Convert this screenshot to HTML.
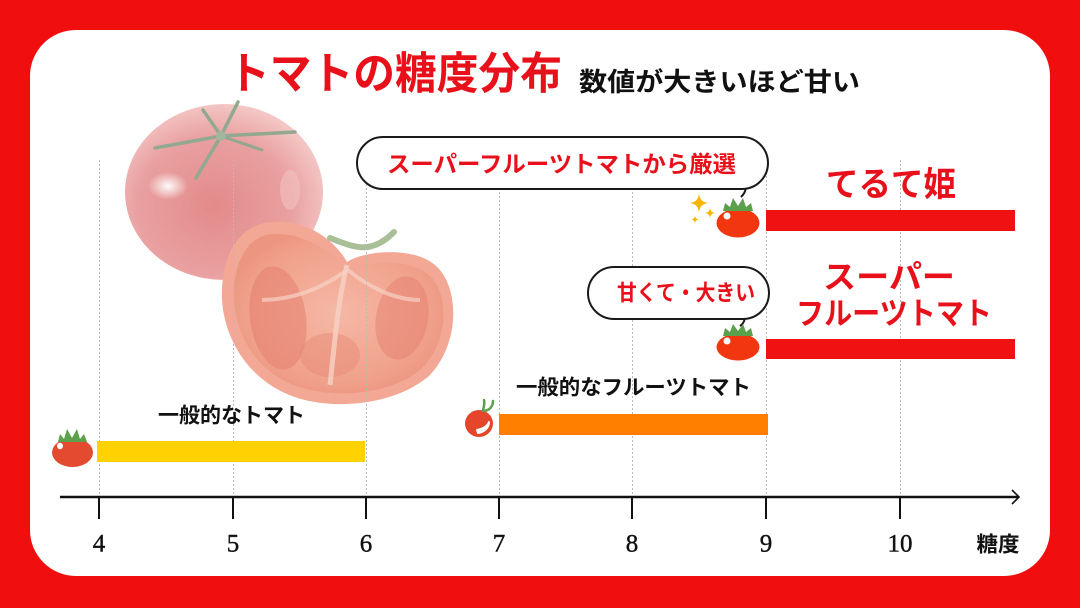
<!DOCTYPE html>
<html lang="ja">
<head>
<meta charset="utf-8">
<style>
  html,body{margin:0;padding:0;background:#f00e0e;}
  body{width:1080px;height:608px;overflow:hidden;}
  svg{display:block;}
  .jp{font-family:"Liberation Sans","Noto Sans CJK JP",sans-serif;font-weight:700;}
  .num{font-family:"Liberation Serif","Noto Serif CJK SC",serif;}
</style>
</head>
<body>
<svg width="1080" height="608" viewBox="0 0 1080 608" xmlns="http://www.w3.org/2000/svg">
  <defs>
    <radialGradient id="gWhole" cx="45%" cy="58%" r="60%">
      <stop offset="0" stop-color="#e38a8a"/>
      <stop offset="0.65" stop-color="#e9a0a0"/>
      <stop offset="1" stop-color="#f4cac8"/>
    </radialGradient>
    <radialGradient id="gHl" cx="50%" cy="50%" r="50%">
      <stop offset="0" stop-color="#ffffff" stop-opacity="0.95"/>
      <stop offset="1" stop-color="#ffffff" stop-opacity="0"/>
    </radialGradient>
    <radialGradient id="gHalf" cx="50%" cy="50%" r="55%">
      <stop offset="0" stop-color="#f5b8a6"/>
      <stop offset="0.8" stop-color="#f0a08a"/>
      <stop offset="1" stop-color="#ec9580"/>
    </radialGradient>
  </defs>

  <!-- red background + white panel -->
  <rect x="0" y="0" width="1080" height="608" fill="#f00e0e"/>
  <rect x="30" y="30" width="1020" height="546" rx="46" ry="46" fill="#ffffff"/>

  <!-- faded tomato photos -->
  <g>
    <!-- whole tomato -->
    <ellipse cx="224" cy="192" rx="99" ry="88" fill="url(#gWhole)"/>
    <ellipse cx="168" cy="186" rx="20" ry="14" fill="url(#gHl)"/>
    <ellipse cx="290" cy="190" rx="10" ry="20" fill="#f3c8c6" opacity="0.5"/>
    <g stroke="#93a890" stroke-linecap="round" fill="none">
      <path d="M221,136 L203,110" stroke-width="3.5"/>
      <path d="M221,136 L238,102" stroke-width="3.5"/>
      <path d="M221,136 L155,148" stroke-width="3.5"/>
      <path d="M221,136 L295,132" stroke-width="3.5"/>
      <path d="M221,136 L196,178" stroke-width="3.5"/>
      <path d="M221,136 L262,150" stroke-width="3"/>
    </g>
    <circle cx="221" cy="136" r="5" fill="#a2b59e"/>

    <!-- half tomato -->
    <path d="M347,262 C365,250 420,245 440,270 C460,295 458,345 430,375 C400,402 345,410 305,400 C255,388 225,345 222,300 C220,255 240,225 270,222 C305,218 335,240 347,262 Z" fill="#f2a894"/>
    <path d="M347,270 C366,260 415,258 432,278 C450,300 447,343 422,368 C396,392 347,398 310,390 C265,380 238,345 234,302 C232,262 248,236 272,234 C303,232 333,252 347,270 Z" fill="url(#gHalf)"/>
    <ellipse cx="278" cy="318" rx="28" ry="52" fill="#e5806f" opacity="0.55" transform="rotate(-8 278 318)"/>
    <ellipse cx="402" cy="318" rx="26" ry="42" fill="#e5806f" opacity="0.5" transform="rotate(10 402 318)"/>
    <ellipse cx="330" cy="355" rx="30" ry="22" fill="#e88b78" opacity="0.5"/>
    <path d="M347,265 C338,300 335,340 330,385" stroke="#f8d2c4" stroke-width="5" fill="none" opacity="0.8"/>
    <path d="M347,270 C320,290 290,300 262,300" stroke="#f8d2c4" stroke-width="4" fill="none" opacity="0.7"/>
    <path d="M348,270 C372,290 398,300 420,300" stroke="#f8d2c4" stroke-width="4" fill="none" opacity="0.7"/>
    <path d="M330,238 C345,244 360,250 372,246 C380,244 388,238 394,232" stroke="#a9bf98" stroke-width="6" fill="none" stroke-linecap="round"/>
  </g>

  <!-- dotted gridlines -->
  <g stroke="#b9b9b9" stroke-width="1" stroke-dasharray="2,2">
    <line x1="99.5" y1="160" x2="99.5" y2="497"/>
    <line x1="233.5" y1="160" x2="233.5" y2="497"/>
    <line x1="366.5" y1="160" x2="366.5" y2="497"/>
    <line x1="499.5" y1="160" x2="499.5" y2="497"/>
    <line x1="632.5" y1="160" x2="632.5" y2="497"/>
    <line x1="766.5" y1="160" x2="766.5" y2="497"/>
    <line x1="900.5" y1="160" x2="900.5" y2="497"/>
  </g>

  <!-- title -->
  <text class="jp" x="228" y="74" dominant-baseline="central" font-size="44" fill="#e8101a" textLength="334" lengthAdjust="spacingAndGlyphs">トマトの糖度分布</text>
  <text class="jp" x="579" y="82" dominant-baseline="central" font-size="26" fill="#111" textLength="281" lengthAdjust="spacingAndGlyphs">数値が大きいほど甘い</text>

  <!-- bubble 1 -->
  <rect x="357" y="137" width="411" height="52" rx="26" ry="26" fill="#fff" stroke="#1a1a1a" stroke-width="2"/>
  <path d="M746,188 C745,192 744,194 741,197" stroke="#1a1a1a" stroke-width="2" fill="none"/>
  <text class="jp" x="387" y="164" dominant-baseline="central" font-size="23" fill="#e8101a" textLength="349" lengthAdjust="spacingAndGlyphs">スーパーフルーツトマトから厳選</text>

  <!-- bubble 2 -->
  <rect x="588" y="267" width="181" height="52" rx="26" ry="26" fill="#fff" stroke="#1a1a1a" stroke-width="2"/>
  <path d="M745,318 C744,322 743,324 740,326" stroke="#1a1a1a" stroke-width="2" fill="none"/>
  <text class="jp" x="617" y="293" dominant-baseline="central" font-size="22" fill="#e8101a" textLength="138" lengthAdjust="spacingAndGlyphs">甘くて・大きい</text>

  <!-- red labels -->
  <text class="jp" x="891" y="185" text-anchor="middle" dominant-baseline="central" font-size="34" fill="#e8101a" textLength="130" lengthAdjust="spacingAndGlyphs">てるて姫</text>
  <text class="jp" x="889" y="277" text-anchor="middle" dominant-baseline="central" font-size="32" fill="#e8101a" textLength="132" lengthAdjust="spacingAndGlyphs">スーパー</text>
  <text class="jp" x="894" y="314" text-anchor="middle" dominant-baseline="central" font-size="31" fill="#e8101a" textLength="196" lengthAdjust="spacingAndGlyphs">フルーツトマト</text>

  <!-- black labels -->
  <text class="jp" x="158" y="416" dominant-baseline="central" font-size="21" fill="#111" textLength="147" lengthAdjust="spacingAndGlyphs">一般的なトマト</text>
  <text class="jp" x="516" y="388" dominant-baseline="central" font-size="21" fill="#111" textLength="235" lengthAdjust="spacingAndGlyphs">一般的なフルーツトマト</text>

  <!-- bars -->
  <rect x="97" y="441" width="268" height="21" fill="#ffd200"/>
  <rect x="499" y="414" width="269" height="21" fill="#ff8000"/>
  <rect x="766" y="210" width="249" height="21" fill="#f01212"/>
  <rect x="766" y="339" width="249" height="20" fill="#f01212"/>

  <!-- tomato icon 1 -->
  <ellipse cx="72.5" cy="452.5" rx="20.5" ry="14.5" fill="#e44a30"/>
  <path d="M58,442 L60,434 L64,439 L67,429 L72,438 L77,429 L80,439 L84,434 L87,442 Z" fill="#5ba04a"/>
  <ellipse cx="60" cy="446" rx="3" ry="3.2" fill="#fff"/>

  <!-- tomato icon 2 -->
  <ellipse cx="479" cy="423.5" rx="14" ry="13.5" fill="#e4452b"/>
  <path d="M483,411 C484,405 485,403 484,400" stroke="#5ba04a" stroke-width="2.5" fill="none" stroke-linecap="round"/>
  <path d="M484,411 C490,410 493,406 493,401" stroke="#5ba04a" stroke-width="2.5" fill="none" stroke-linecap="round"/>
  <path d="M478,433 C484,432 489,428 489,422 C487,427 482,429 477,430 Z" fill="#fff" stroke="#fff" stroke-width="2" stroke-linejoin="round"/>

  <!-- sparkles -->
  <g fill="#f7b500">
    <path d="M699,192 Q699,203 710,203 Q699,203 699,214 Q699,203 688,203 Q699,203 699,192 Z"/>
    <path d="M710,207 Q710,213 716,213 Q710,213 710,219 Q710,213 704,213 Q710,213 710,207 Z"/>
    <path d="M695,215 Q695,219.5 699.5,219.5 Q695,219.5 695,224 Q695,219.5 690.5,219.5 Q695,219.5 695,215 Z"/>
  </g>

  <!-- tomato icon 3 -->
  <ellipse cx="738" cy="223" rx="21.5" ry="14.5" fill="#f2360f"/>
  <path d="M723,211 L725,203 L730,207 L733,198 L738,206 L743,198 L746,207 L751,203 L753,211 Z" fill="#5ba04a"/>
  <circle cx="727" cy="216" r="3.5" fill="#fff"/>

  <!-- tomato icon 4 -->
  <ellipse cx="738" cy="347" rx="21.5" ry="13.5" fill="#f2360f"/>
  <path d="M723,336 L725,328 L730,332 L733,324 L738,331 L743,324 L746,332 L751,328 L753,336 Z" fill="#5ba04a"/>
  <circle cx="727" cy="341" r="3.5" fill="#fff"/>

  <!-- axis -->
  <line x1="60" y1="497" x2="1019" y2="497" stroke="#111" stroke-width="2.5"/>
  <polyline points="1012,490 1019,497 1012,504" fill="none" stroke="#111" stroke-width="1.6"/>
  <g stroke="#111" stroke-width="2">
    <line x1="99" y1="497" x2="99" y2="519"/>
    <line x1="233" y1="497" x2="233" y2="519"/>
    <line x1="366" y1="497" x2="366" y2="519"/>
    <line x1="499" y1="497" x2="499" y2="519"/>
    <line x1="632" y1="497" x2="632" y2="519"/>
    <line x1="766" y1="497" x2="766" y2="519"/>
    <line x1="900" y1="497" x2="900" y2="519"/>
  </g>
  <g class="num" font-size="25" fill="#111" stroke="#111" stroke-width="0.4" text-anchor="middle" dominant-baseline="central">
    <text x="99" y="544">4</text>
    <text x="233" y="544">5</text>
    <text x="366" y="544">6</text>
    <text x="499" y="544">7</text>
    <text x="632" y="544">8</text>
    <text x="766" y="544">9</text>
    <text x="900" y="544">10</text>
  </g>
  <text class="jp" x="998" y="545" text-anchor="middle" dominant-baseline="central" font-size="21" fill="#111" textLength="43" lengthAdjust="spacingAndGlyphs">糖度</text>
</svg>
</body>
</html>
